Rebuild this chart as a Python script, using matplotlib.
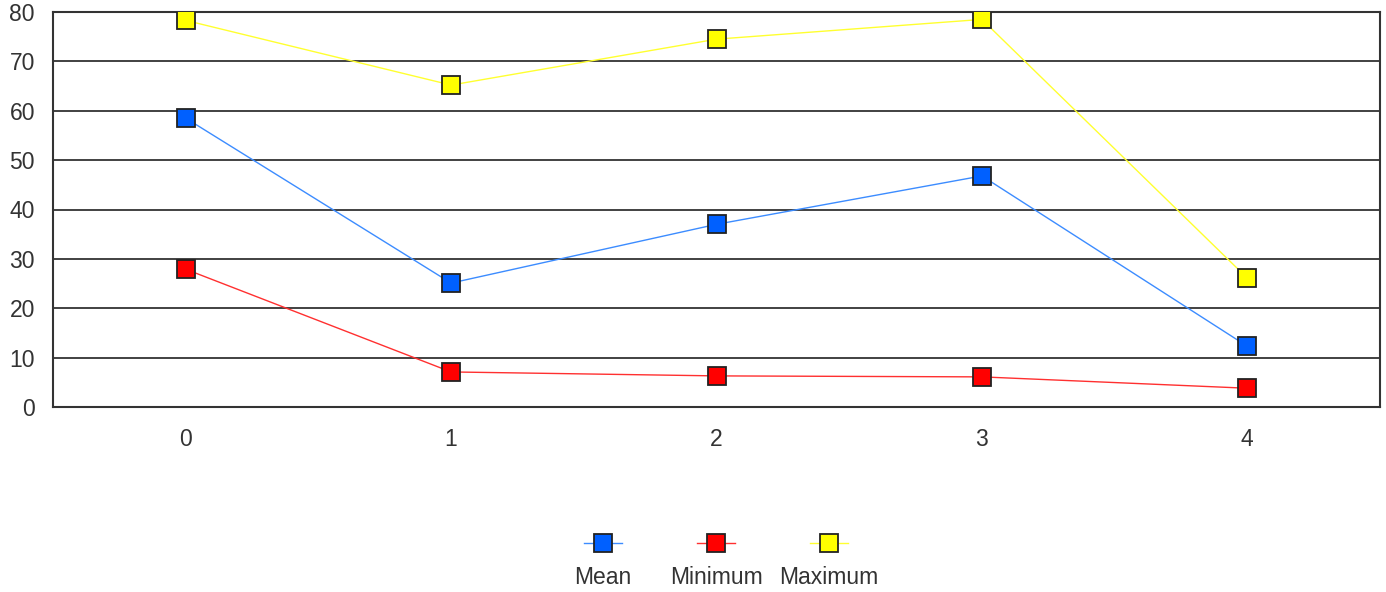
import matplotlib.pyplot as plt

plt.rcParams['font.family'] = ['Liberation Sans', 'DejaVu Sans']

x = [0, 1, 2, 3, 4]
mean_vals = [58.5, 25.1, 37.0, 46.8, 12.3]
min_vals = [27.9, 7.1, 6.3, 6.1, 3.8]
max_vals = [78.3, 65.2, 74.5, 78.5, 26.1]
names = ['Mean', 'Minimum', 'Maximum']
colors = ['#0060ff', '#ff0000', '#ffff00']
line_colors = ['#3c8cff', '#ff3030', '#ffff30']

fig = plt.figure(figsize=(13.86, 5.92), dpi=100)
ax = fig.add_axes([53/1386, 1 - 407/592, (1380-53)/1386, (407-12)/592])

for vals, c, lc in zip([mean_vals, min_vals, max_vals], colors, line_colors):
    ax.plot(x, vals, color=lc, linewidth=1.0, zorder=3)
    ax.plot(x, vals, linestyle='none', marker='s', markersize=13,
            markerfacecolor=c, markeredgecolor='#222222', markeredgewidth=1.3, zorder=4)

ax.set_xlim(-0.5, 4.5)
ax.set_ylim(0, 80)
ax.set_xticks(x)
ax.set_yticks(range(0, 81, 10))
ax.yaxis.grid(True, color='#333333', linewidth=1.3)
ax.set_axisbelow(True)
ax.tick_params(length=0, labelsize=16.5, colors='#333333')
ax.tick_params(axis='y', pad=13)
ax.tick_params(axis='x', pad=15)
for s in ax.spines.values():
    s.set_color('#333333')
    s.set_linewidth(1.5)

# legend: markers on top, labels below
lax = fig.add_axes([560/1386, 0, 320/1386, 80/592])
lax.set_xlim(-0.38, 2.45)
lax.set_ylim(0, 80)
lax.axis('off')
for i, (name, c, lc) in enumerate(zip(names, colors, line_colors)):
    lax.plot([i - 0.17, i + 0.17], [49, 49], color=lc, linewidth=1.0)
    lax.plot([i], [49], marker='s', markersize=13, markerfacecolor=c,
             markeredgecolor='#222222', markeredgewidth=1.3)
    lax.text(i, 15, name, ha='center', va='center', fontsize=16.5, color='#333333')

fig.savefig('out.png', dpi=100)
